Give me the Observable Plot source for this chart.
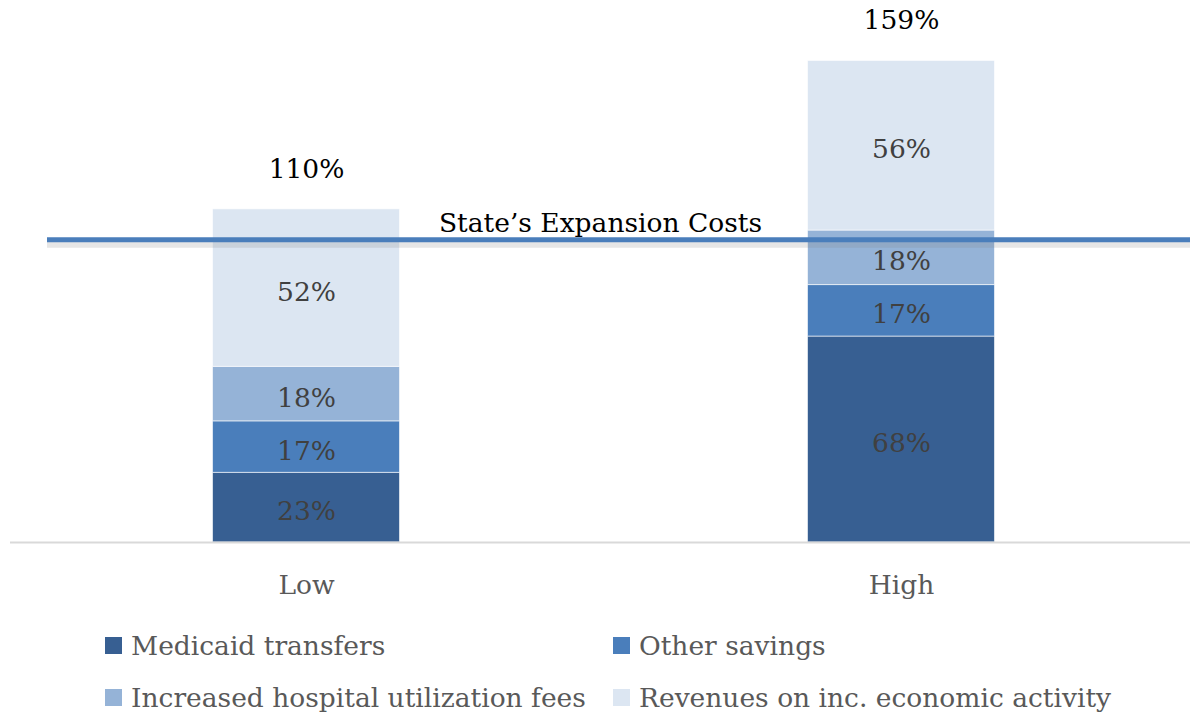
<!DOCTYPE html>
<html>
<head>
<meta charset="utf-8">
<script src="https://cdn.jsdelivr.net/npm/d3@7"></script>
<script src="https://cdn.jsdelivr.net/npm/@observablehq/plot@0.6"></script>
<style>
  body { margin: 0; background: #fff; font-family: "DejaVu Serif", serif; }
  #legend { display: grid; grid-template-columns: 508px 560px; margin-left: 105px; padding-top: 19px; }
  .item { display: flex; align-items: center; height: 52px; font-size: 26.5px; color: #595959; white-space: nowrap; }
  .sw { width: 17px; height: 17px; margin-right: 9px; flex: none; }
</style>
</head>
<body>
<div id="chart"></div>
<div id="legend"></div>
<script>
const scenarios = ["Low", "High"];
const seriesNames = ["Medicaid transfers", "Other savings", "Increased hospital utilization fees", "Revenues on inc. economic activity"];
const colors = ["#375f92", "#4a7ebb", "#95b3d7", "#dce6f2"];
const lowValues = [23, 17, 18, 52];
const highValues = [68, 17, 18, 56];
const totals = [110, 159];
const refValue = [100];
const refLabel = ["State\u2019s Expansion Costs"];

const data = [];
seriesNames.forEach((s, i) => {
  data.push({scenario: "Low", series: s, value: lowValues[i]});
  data.push({scenario: "High", series: s, value: highValues[i]});
});
const totalData = scenarios.map((s, i) => ({scenario: s, total: totals[i]}));

const chart = Plot.plot({
  width: 1190,
  height: 600,
  marginLeft: 10,
  marginRight: 0,
  marginTop: 12,
  marginBottom: 58,
  style: {fontFamily: "DejaVu Serif, serif", background: "#fff"},
  x: {domain: scenarios, range: [8.5, 1198.5], paddingInner: 0.6857, paddingOuter: 0.3429, label: null, round: false},
  y: {domain: [0, 175], axis: null},
  color: {domain: seriesNames, range: colors},
  marks: [
    Plot.barY(data, Plot.stackY({x: "scenario", y: "value", fill: "series", stroke: "white", strokeWidth: 1, strokeOpacity: 0.6})),
    Plot.text(data, Plot.stackY({x: "scenario", y: "value", text: d => d.value + "%", fill: "#404040", fontSize: 26.5, dy: 4})),
    Plot.text(totalData, {x: "scenario", y: "total", text: d => d.total + "%", fill: "#000", fontSize: 26.5, dy: -40}),
    Plot.ruleY([0], {stroke: "#d9d9d9", strokeWidth: 2}),
    Plot.ruleY(refValue, {stroke: "#808080", strokeOpacity: 0.2, strokeWidth: 6, dy: 5, insetLeft: 37}),
    Plot.ruleY(refValue, {stroke: "#4a7ebb", strokeWidth: 5, insetLeft: 37}),
    Plot.text(refLabel, {y: refValue, text: d => d, fill: "#000", fontSize: 26.5, dy: -16, frameAnchor: "middle"}),
    Plot.axisX({tickSize: 0, tickPadding: 33, fontSize: 26.5, color: "#595959", label: null})
  ]
});
document.getElementById("chart").appendChild(chart);

const legend = document.getElementById("legend");
[0, 1, 2, 3].forEach(i => {
  const item = document.createElement("div");
  item.className = "item";
  const sw = document.createElement("span");
  sw.className = "sw";
  sw.style.background = colors[i];
  item.appendChild(sw);
  item.appendChild(document.createTextNode(seriesNames[i]));
  legend.appendChild(item);
});
</script>
</body>
</html>
